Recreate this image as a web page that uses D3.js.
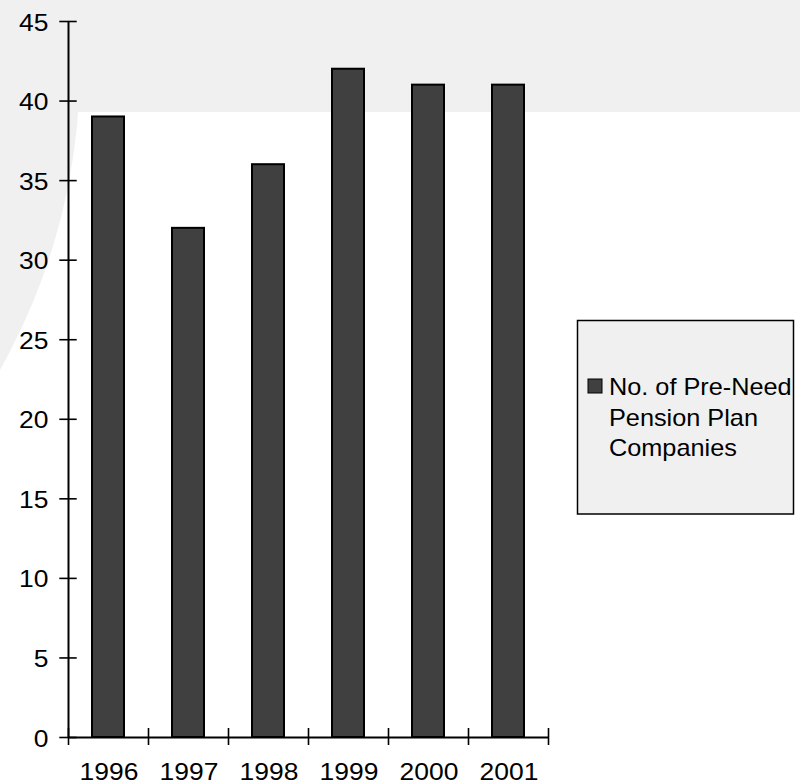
<!DOCTYPE html>
<html>
<head>
<meta charset="utf-8">
<script src="https://cdn.jsdelivr.net/npm/d3@7"></script>
<style>
  html, body { margin: 0; padding: 0; background: #fff; }
  svg { display: block; }
</style>
</head>
<body>
<script>
// Number of pre-need pension plan companies per year
const years = ["1996", "1997", "1998", "1999", "2000", "2001"];
const companies = [39, 32, 36, 42, 41, 41];
const yTickValues = [0, 5, 10, 15, 20, 25, 30, 35, 40, 45];
const legendLines = ["No. of Pre-Need", "Pension Plan", "Companies"];

const W = 800, H = 784;
const plot = { left: 68, right: 548, top: 21, bottom: 737 };
const FONT = '"Liberation Sans", Arial, Helvetica, sans-serif';
const AXIS_STRETCH = 1.15;
const LEGEND_STRETCH = 1.1;
const BAR_FILL = "#404040";
const BACK_GREY = "#f0f0f0";

const svg = d3.select("body").append("svg")
  .attr("width", W).attr("height", H);

// backdrop: white page with a grey band on top and a grey arc on the left
svg.append("rect").attr("width", W).attr("height", H).attr("fill", "#fff");
svg.append("rect").attr("width", W).attr("height", 112).attr("fill", BACK_GREY);
svg.append("circle").attr("cx", -541).attr("cy", 65).attr("r", 621).attr("fill", BACK_GREY);

// scales
const x = d3.scaleBand().domain(years)
  .range([plot.left, plot.right])
  .paddingInner(0.6).paddingOuter(0.3);
const y = d3.scaleLinear().domain([0, 45]).range([plot.bottom, plot.top]);
const edges = d3.scaleLinear().domain([0, years.length]).range([plot.left, plot.right]);

// bars
svg.append("g").selectAll("rect")
  .data(years)
  .join("rect")
  .attr("x", d => x(d))
  .attr("width", x.bandwidth())
  .attr("y", (d, i) => y(companies[i]))
  .attr("height", (d, i) => y(0) - y(companies[i]))
  .attr("fill", BAR_FILL)
  .attr("stroke", "#000")
  .attr("stroke-width", 2);

// y axis with ticks crossing the axis line
const yAxis = svg.append("g")
  .attr("transform", `translate(${plot.left},0)`)
  .call(d3.axisLeft(y).tickValues(yTickValues).tickSize(8.7).tickSizeOuter(0))
  .attr("font-family", FONT).attr("font-size", 23);
yAxis.select(".domain").attr("stroke", "#000").attr("stroke-width", 2);
yAxis.selectAll(".tick line").attr("x1", 8.7).attr("stroke", "#000").attr("stroke-width", 1.6);
yAxis.selectAll(".tick text")
  .attr("x", null).attr("dy", null)
  .attr("transform", `translate(-19.5,9) scale(${AXIS_STRETCH},1)`)
  .attr("fill", "#000");

// x axis: category boundaries as ticks
const eAxis = svg.append("g")
  .attr("transform", `translate(0,${plot.bottom})`)
  .call(d3.axisBottom(edges).tickValues(d3.range(0, years.length + 1)).tickSize(8).tickSizeOuter(0).tickFormat(""));
eAxis.select(".domain").attr("stroke", "#000").attr("stroke-width", 2);
eAxis.selectAll(".tick line").attr("y1", -9).attr("stroke", "#000").attr("stroke-width", 1.6);

// x axis: year labels centred under the bars
const xAxis = svg.append("g")
  .attr("transform", `translate(0,${plot.bottom})`)
  .call(d3.axisBottom(x).tickSize(0).tickPadding(0))
  .attr("font-family", FONT).attr("font-size", 23);
xAxis.select(".domain").remove();
xAxis.selectAll(".tick text")
  .attr("y", null).attr("dy", null)
  .attr("transform", `translate(1,43) scale(${AXIS_STRETCH},1)`)
  .attr("fill", "#000");

// legend
const lg = svg.append("g");
lg.append("rect")
  .attr("x", 577.5).attr("y", 320.5).attr("width", 216).attr("height", 193.5)
  .attr("fill", BACK_GREY).attr("stroke", "#000").attr("stroke-width", 1.5);
lg.append("rect")
  .attr("x", 588).attr("y", 379).attr("width", 14).attr("height", 14)
  .attr("fill", BAR_FILL).attr("stroke", "#000").attr("stroke-width", 1);
lg.selectAll("text.item")
  .data(legendLines)
  .join("text")
  .attr("class", "item")
  .attr("transform", (d, i) => `translate(609,${395 + i * 30.5}) scale(${LEGEND_STRETCH},1)`)
  .attr("font-family", FONT).attr("font-size", 23).attr("fill", "#000")
  .text(d => d);
</script>
</body>
</html>
